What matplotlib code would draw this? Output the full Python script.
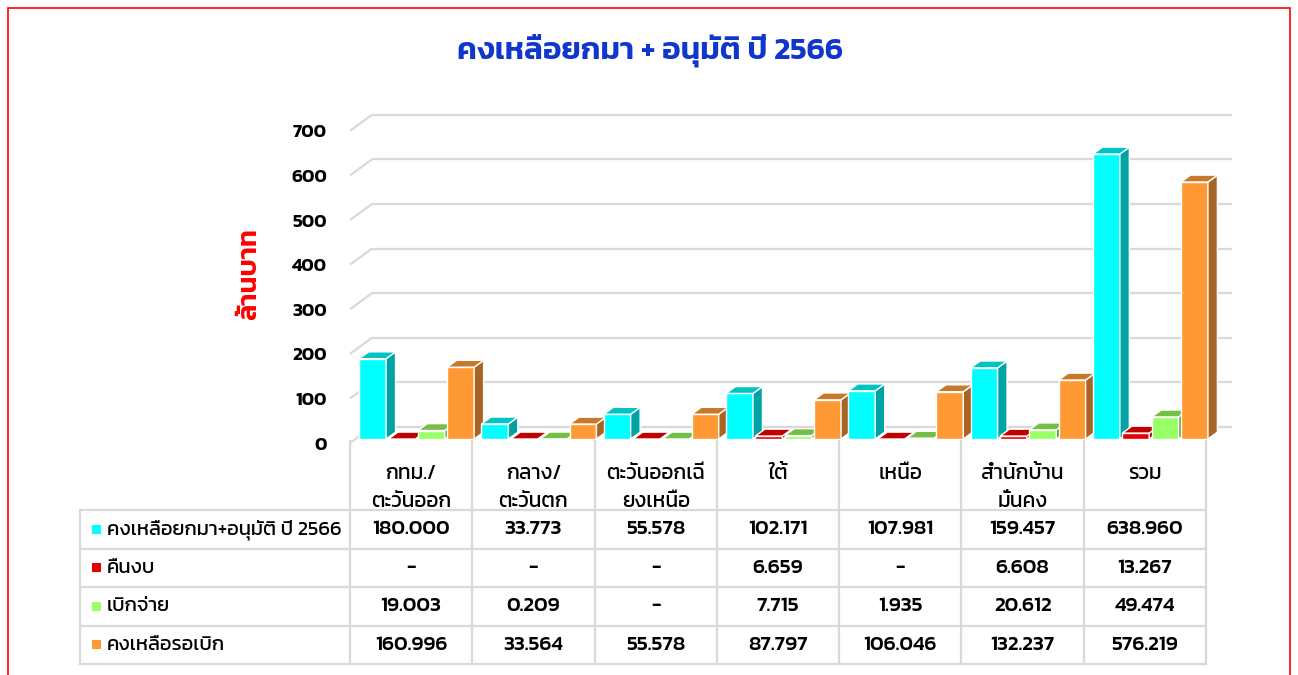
import matplotlib
matplotlib.use('Agg')
import matplotlib.pyplot as plt
from matplotlib.patches import Polygon, Rectangle

plt.rcParams['font.family'] = ['Kanit', 'Prompt', 'Bai Jamjuree', 'DejaVu Sans']

# ---- data -------------------------------------------------------------
title = 'คงเหลือยกมา + อนุมัติ ปี 2566'
y_label = 'ล้านบาท'
categories = ['กทม./\nตะวันออก', 'กลาง/\nตะวันตก', 'ตะวันออกเฉี\nยงเหนือ',
              'ใต้', 'เหนือ', 'สำนักบ้าน\nมั่นคง', 'รวม']
series_names = ['คงเหลือยกมา+อนุมัติ ปี 2566', 'คืนงบ', 'เบิกจ่าย', 'คงเหลือรอเบิก']
carried_approved = [180.000, 33.773, 55.578, 102.171, 107.981, 159.457, 638.960]
returned = [0, 0, 0, 6.659, 0, 6.608, 13.267]
disbursed = [19.003, 0.209, 0, 7.715, 1.935, 20.612, 49.474]
remaining = [160.996, 33.564, 55.578, 87.797, 106.046, 132.237, 576.219]
y_ticks = [0, 100, 200, 300, 400, 500, 600, 700]

series = [carried_approved, returned, disbursed, remaining]
# (front, top, side) colours per series
colors = [('#00FFFF', '#00C4C4', '#00A3A3'),
          ('#E60000', '#C00000', '#9A0000'),
          ('#99FF66', '#74BF45', '#5E9E36'),
          ('#FF9933', '#C7782A', '#A86422')]

# ---- figure -----------------------------------------------------------
W, H = 1298, 675
fig = plt.figure(figsize=(W / 100, H / 100), dpi=100)
fig.patch.set_facecolor('white')

PX = 122.3            # pixels per category
PY = 0.446            # pixels per value unit
x0_px, y0_px = 350, 443
xmax, ymax = 7.35, 760
ax = fig.add_axes([x0_px / W, (H - y0_px) / H, xmax * PX / W, ymax * PY / H])
ax.set_xlim(0, xmax)
ax.set_ylim(0, ymax)
for s in ax.spines.values():
    s.set_visible(False)
ax.set_xticks([])
ax.set_yticks(y_ticks)
ax.tick_params(axis='y', length=0, pad=16.5, labelsize=13.5)
for lab in ax.get_yticklabels():
    lab.set_fontweight('semibold')

DX, DY = 0.18, 35.9     # full depth of the 3D box in data units
GRID = '#D9D9D9'

# walls: side-wall diagonal + back-wall line for every tick
for v in y_ticks:
    ax.plot([0, DX], [v, v + DY], color=GRID, lw=1.6, zorder=1, clip_on=False,
            solid_capstyle='butt')
    ax.plot([DX, len(categories) + DX + 0.03], [v + DY, v + DY], color=GRID,
            lw=1.6, zorder=1, clip_on=False, solid_capstyle='butt')

# 3D bars
d_front, d_back = 0.25, 0.68
bar_w, step, first = 0.22, 0.24, 0.03
ddx = (d_back - d_front) * DX
ddy = (d_back - d_front) * DY
for c in range(len(categories)):
    for s, vals in enumerate(series):
        v = vals[c]
        fc, tc, sc = colors[s]
        xl = c + first + s * step + d_front * DX
        xr = xl + bar_w
        yb = d_front * DY
        yt = yb + v
        kw = dict(ec='white', lw=1.0, zorder=3 + c * 4 + s, clip_on=False,
                  joinstyle='miter')
        if v > 0:
            ax.add_patch(Polygon([(xl, yb), (xr, yb), (xr, yt), (xl, yt)],
                                 fc=fc, **kw))
            ax.add_patch(Polygon([(xr, yb), (xr + ddx, yb + ddy),
                                  (xr + ddx, yt + ddy), (xr, yt)], fc=sc, **kw))
        ax.add_patch(Polygon([(xl, yt), (xr, yt), (xr + ddx, yt + ddy),
                              (xl + ddx, yt + ddy)], fc=tc, **kw))

ax.text(-0.815, 379, y_label, rotation=90, color='#FF0000', fontsize=19.5,
        fontweight='semibold', ha='center', va='center')

fig.text(650 / W, 1 - 50 / H, title, color='#1036CC', fontsize=22.5,
         fontweight='semibold', ha='center', va='center')

# ---- data table -------------------------------------------------------
t_left, t_right, t_top, t_bot = 80, 1206, 441, 664
row_h = 38.5
hdr = (510 - t_top) / row_h
tab = fig.add_axes([t_left / W, (H - t_bot) / H, (t_right - t_left) / W,
                    (t_bot - t_top) / H])
lab_w = (x0_px - t_left) / PX
tab.set_xlim(-lab_w, len(categories))
tab.set_ylim(len(series), -hdr)
tab.axis('off')

lk = dict(color=GRID, lw=1.6, clip_on=False, solid_capstyle='projecting')
for r in range(len(series) + 1):
    tab.plot([-lab_w, len(categories)], [r, r], **lk)
for c in range(len(categories) + 1):
    tab.plot([c, c], [-hdr, len(series)], **lk)
tab.plot([-lab_w, -lab_w], [0, len(series)], **lk)

for c, name in enumerate(categories):
    tab.text(c + 0.5, -hdr + 0.63, name, ha='center', va='top', fontsize=15,
             linespacing=1.68)

for r, (name, vals) in enumerate(zip(series_names, series)):
    tab.add_patch(Rectangle((-lab_w + 0.1, r + 0.38), 0.07, 0.24,
                            fc=colors[r][0], ec='none'))
    tab.text(-lab_w + 0.22, r + 0.5, name, ha='left', va='center', fontsize=14.5)
    for c, v in enumerate(vals):
        txt = f'{v:.3f}' if v else '-'
        tab.text(c + 0.5, r + 0.5, txt, ha='center', va='center', fontsize=15,
                 fontweight='medium')

# red frame
fig.add_artist(Rectangle((8 / W, -0.05), (W - 16) / W, 1 - 8 / H + 0.05,
                         transform=fig.transFigure, fill=False, ec='#FF0000',
                         lw=1.2))

fig.savefig('out.png', dpi=100)
